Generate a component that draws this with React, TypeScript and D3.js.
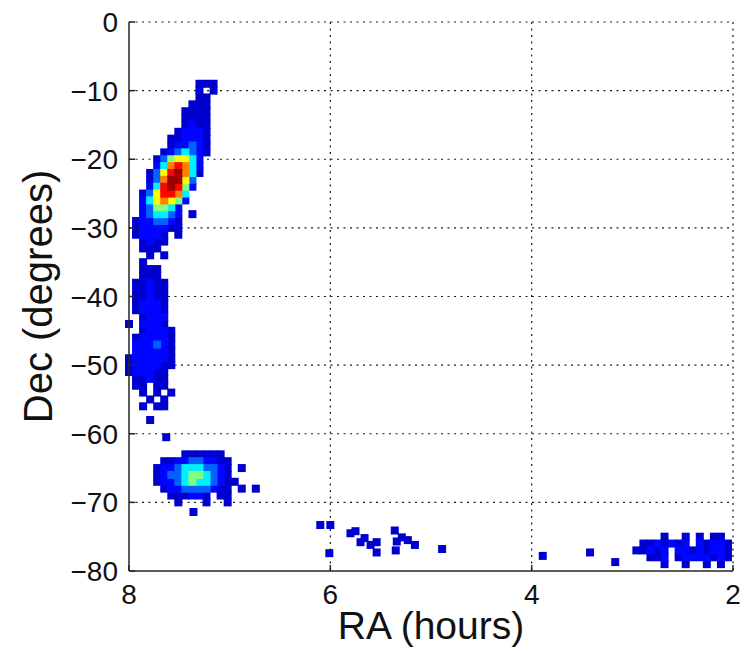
import React from 'react';
import * as d3 from 'd3';

const W = 750;
const H = 652;
const plot = { left: 129, right: 733, top: 22, bottom: 571 };

// Axis ticks
const raTicks = [8, 6, 4, 2];
const decTicks = [0, -10, -20, -30, -40, -50, -60, -70, -80];

// Binned sky density. Each row: [Dec (deg), RA of first cell (h), density levels
// per cell going toward smaller RA in steps of RA_STEP; '.' marks an empty cell]
const RA_STEP = 0.07;

const upperLobe: [number, number, string][] = [
  [-9, 7.30, '111'],
  [-10, 7.30, '1.1'],
  [-11, 7.30, '11'],
  [-12, 7.37, '111'],
  [-13, 7.44, '1111'],
  [-14, 7.44, '1111'],
  [-15, 7.44, '1211'],
  [-16, 7.51, '12221'],
  [-17, 7.58, '112221'],
  [-18, 7.58, '122321'],
  [-19, 7.65, '1234321'],
  [-20, 7.72, '1356642'],
  [-21, 7.72, '2478742'],
  [-22, 7.79, '13689741'],
  [-23, 7.79, '1379963'],
  [-24, 7.79, '2489852'],
  [-25, 7.86, '1368874'],
  [-26, 7.86, '2467652'],
  [-27, 7.86, '235542'],
  [-28, 7.86, '234432.1'],
  [-29, 7.93, '1223321'],
  [-30, 7.93, '1222211'],
  [-31, 7.93, '12221.1'],
  [-32, 7.86, '1211'],
  [-33, 7.86, '111'],
];

const middleLobe: [number, number, string][] = [
  [-34, 7.79, '1.1'],
  [-35, 7.86, '1'],
  [-36, 7.86, '111'],
  [-37, 7.86, '111'],
  [-38, 7.93, '11211'],
  [-39, 7.93, '11211'],
  [-40, 7.93, '11211'],
  [-41, 7.93, '12221'],
  [-42, 7.93, '12221'],
  [-43, 7.86, '1222'],
  [-44, 8.00, '1.2221'],
  [-45, 7.86, '12221'],
  [-46, 7.93, '122221'],
  [-47, 7.93, '222321'],
  [-48, 7.93, '222221'],
  [-49, 8.00, '1222221'],
  [-50, 8.00, '1222211'],
  [-51, 8.00, '122211'],
  [-52, 7.93, '11211'],
  [-53, 7.93, '11.11'],
  [-54, 7.86, '1.1.1'],
  [-55, 7.79, '1.1'],
  [-56, 7.86, '1.11'],
  [-58, 7.79, '1'],
];

const southLobe: [number, number, string][] = [
  [-63, 7.44, '111111'],
  [-64, 7.65, '1122332211'],
  [-65, 7.72, '12234443321.1'],
  [-66, 7.72, '12334554321'],
  [-67, 7.72, '122345443211'],
  [-68, 7.65, '1223333211.1.1'],
  [-69, 7.58, '111221.11'],
  [-70, 7.51, '1...1..1'],
];

const eastTail: [number, number, string][] = [
  [-75, 2.68, '1..1.1.11'],
  [-76, 2.89, '1121212.21221'],
  [-77, 2.96, '11212.22121221'],
  [-78, 2.82, '112.12222121'],
  [-79, 2.68, '1..1..1.1'],
];

// Isolated detections: [RA (h), Dec (deg), density level]
const isolated: [number, number, number][] = [
  [7.63, -60.5, 1],
  [7.36, -71.4, 1],
  [6.10, -73.3, 1],
  [6.00, -73.3, 1],
  [6.01, -77.4, 1],
  [5.80, -74.5, 1],
  [5.75, -74.2, 1],
  [5.70, -75.8, 1],
  [5.66, -75.2, 1],
  [5.60, -76.2, 1],
  [5.54, -75.8, 1],
  [5.54, -77.3, 1],
  [5.36, -74.1, 1],
  [5.34, -75.7, 1],
  [5.29, -75.1, 1],
  [5.23, -75.5, 1],
  [5.16, -76.2, 1],
  [5.35, -77.0, 1],
  [4.89, -76.8, 1],
  [3.89, -77.8, 1],
  [3.42, -77.3, 1],
  [3.17, -78.7, 1],
];

// Position of each density level along the colormap
const levelStops = [0.07, 0.13, 0.22, 0.36, 0.5, 0.62, 0.75, 0.87, 0.97];

type Cell = { ra: number; dec: number; level: number };

function expandRows(rows: [number, number, string][]): Cell[] {
  const out: Cell[] = [];
  rows.forEach(([dec, ra0, levels]) => {
    levels.split('').forEach((ch, i) => {
      if (ch === '.') return;
      out.push({ ra: ra0 - i * RA_STEP, dec, level: +ch });
    });
  });
  return out;
}

// MATLAB-style jet colormap
const jet = d3
  .scaleLinear<string>()
  .domain([0, 0.125, 0.375, 0.625, 0.875, 1])
  .range(['#00008f', '#0000ff', '#00ffff', '#ffff00', '#ff0000', '#800000'])
  .interpolate(d3.interpolateRgb);
const levelColor = (level: number) => jet(levelStops[level - 1]);

const FONT = "'Liberation Sans', Arial, Helvetica, sans-serif";
const MARK = 8;

export default function App() {
  const x = d3.scaleLinear().domain([8, 2]).range([plot.left, plot.right]);
  const y = d3.scaleLinear().domain([0, -80]).range([plot.top, plot.bottom]);

  const cells: Cell[] = [
    ...expandRows(upperLobe),
    ...expandRows(middleLobe),
    ...expandRows(southLobe),
    ...expandRows(eastTail),
    ...isolated.map(([ra, dec, level]) => ({ ra, dec, level })),
  ].sort((a, b) => a.level - b.level);

  const fmt = (v: number) => (v < 0 ? '\u2212' + Math.abs(v) : String(v));
  const gridColor = '#1a1a1a';

  return (
    <svg
      width={W}
      height={H}
      style={{ position: 'absolute', left: 0, top: 0, display: 'block', background: '#fff' }}
      fontFamily={FONT}
    >
      <rect width={W} height={H} fill="#fff" />

      {/* dotted grid */}
      <g stroke={gridColor} strokeWidth={1.2} strokeDasharray="2,4.5" fill="none">
        {decTicks
          .filter((d) => d !== -80)
          .map((d) => (
            <line key={'gy' + d} x1={plot.left} x2={plot.right} y1={y(d)} y2={y(d)} />
          ))}
        {raTicks
          .filter((r) => r !== 8)
          .map((r) => (
            <line key={'gx' + r} x1={x(r)} x2={x(r)} y1={plot.top} y2={plot.bottom} />
          ))}
      </g>

      {/* density cells */}
      <g>
        {cells.map((c, i) => (
          <rect
            key={i}
            x={x(c.ra) - MARK / 2}
            y={y(c.dec) - MARK / 2}
            width={MARK}
            height={MARK}
            fill={levelColor(c.level)}
          />
        ))}
      </g>

      {/* axes */}
      <g stroke="#262626" strokeWidth={1.5} fill="none">
        <line x1={plot.left} x2={plot.left} y1={plot.top} y2={plot.bottom} />
        <line x1={plot.left} x2={plot.right} y1={plot.bottom} y2={plot.bottom} />
        {decTicks.map((d) => (
          <line key={'ty' + d} x1={plot.left} x2={plot.left + 6} y1={y(d)} y2={y(d)} />
        ))}
        {raTicks.map((r) => (
          <line key={'tx' + r} x1={x(r)} x2={x(r)} y1={plot.bottom} y2={plot.bottom - 6} />
        ))}
      </g>

      {/* tick labels */}
      <g fontSize={28} fill="#111">
        {decTicks.map((d) => (
          <text key={'ly' + d} x={plot.left - 11} y={y(d)} dy="0.36em" textAnchor="end">
            {fmt(d)}
          </text>
        ))}
        {raTicks.map((r) => (
          <text key={'lx' + r} x={x(r)} y={604} textAnchor="middle">
            {fmt(r)}
          </text>
        ))}
      </g>

      {/* axis titles */}
      <text x={(plot.left + plot.right) / 2} y={639} fontSize={39} textAnchor="middle" fill="#111">
        RA (hours)
      </text>
      <text
        transform={`translate(52, ${(plot.top + plot.bottom) / 2}) rotate(-90)`}
        fontSize={40}
        textAnchor="middle"
        fill="#111"
      >
        Dec (degrees)
      </text>
    </svg>
  );
}
